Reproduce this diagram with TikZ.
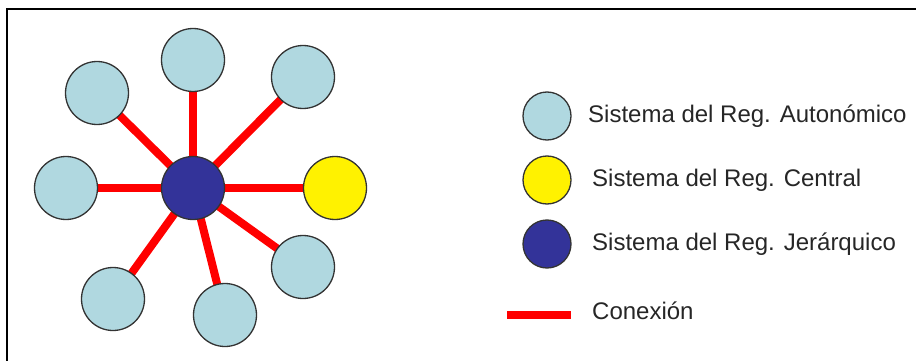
\documentclass[tikz,border=0pt]{standalone}
\usepackage{fontspec}
\setmainfont{Liberation Sans}
\usetikzlibrary{positioning,backgrounds}
\definecolor{autblue}{RGB}{176,216,224}
\definecolor{jerblue}{RGB}{51,51,153}

\begin{document}
\begin{tikzpicture}[x=1pt, y=-1pt,
  sis/.style={circle, draw=black!80, line width=1.3pt, minimum size=63pt,
              inner sep=0pt},
  aut/.style={sis, fill=autblue},
  cen/.style={sis, fill=yellow},
  jer/.style={sis, fill=jerblue},
  con/.style={red, line width=8pt},
  leg/.style={minimum size=48pt},
  txt/.style={anchor=west, inner sep=0pt, text=black!85,
              font=\fontsize{24}{28}\selectfont}]

  \useasboundingbox (0,0) rectangle (916,361);

  % Frame
  \draw[line width=2pt] (7,361) -- (7,9) -- (916,9);

  % Hub and systems
  \node[jer] (hub) at (193,188) {};
  \node[aut] (n1) at (193,60) {};
  \node[aut] (n2) at (97,93) {};
  \node[aut] (n3) at (303,77) {};
  \node[aut] (n4) at (66,188) {};
  \node[cen] (n5) at (335,188) {};
  \node[aut] (n6) at (303,267) {};
  \node[aut] (n7) at (225,315) {};
  \node[aut] (n8) at (113,299) {};

  % Connections
  \begin{scope}[on background layer]
    \foreach \n in {n1,n2,n3,n4,n5,n6,n7,n8}
      \draw[con] (hub.center) -- (\n.center);
  \end{scope}

  % Legend
  \node[aut, leg] (la) at (547,116) {};
  \node[cen, leg] (lc) at (547,180) {};
  \node[jer, leg] (lj) at (547,244) {};
  \coordinate (lk1) at (507,315);
  \coordinate (lk2) at (571,315);
  \draw[con] (lk1) -- (lk2);

  \node[txt] (ta) at (588,116) {Sistema del Reg. Autonómico};
  \node[txt] (tc) at (592,180) {Sistema del Reg. Central};
  \node[txt] (tj) at (592,244) {Sistema del Reg. Jerárquico};
  \node[txt] (tk) at (592,311) {Conexión};
\end{tikzpicture}
\end{document}
